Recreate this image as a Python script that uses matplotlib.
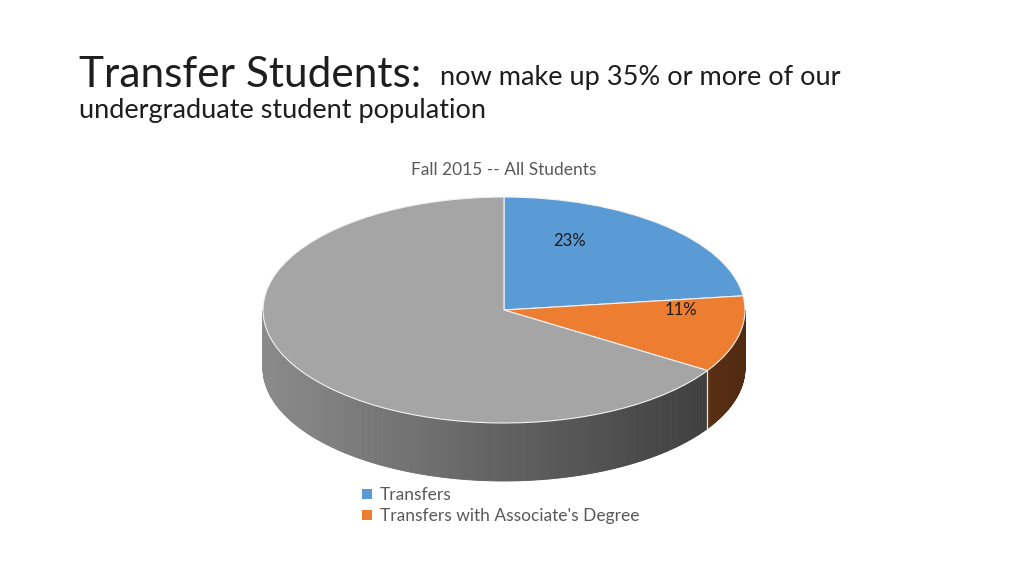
import numpy as np
import matplotlib
matplotlib.use("Agg")
import matplotlib.pyplot as plt
from matplotlib.patches import Polygon

# ---- data ----
categories = ["Transfers", "Transfers with Associate's Degree", "Other"]
values = [23, 11, 66]
labels_shown = ["23%", "11%", ""]
legend_labels = ["Transfers", "Transfers with Associate's Degree"]
colors = ["#5B9BD5", "#ED7D31", "#A5A5A5"]

W, H = 1024, 576
fig = plt.figure(figsize=(W / 100, H / 100), dpi=100)
fig.patch.set_facecolor("white")

FONT = ["Lato", "DejaVu Sans"]

# pie geometry (pixel units)
cx, cy = 504, 310
rx, ry = 241, 113
depth = 58 / ry

ax = fig.add_axes([0, 0, 1, 1])
wedges, _ = ax.pie(values, colors=colors, startangle=90, counterclock=False,
                   radius=1.0, center=(0, 0),
                   wedgeprops=dict(edgecolor="#f2f2f2", linewidth=0.8, zorder=5))
ax.set_aspect("auto")
ax.set_xlim(-cx / rx, (W - cx) / rx)
ax.set_ylim(-(H - cy) / ry, cy / ry)
ax.axis("off")

# side walls derived from the same fractions
fr = np.array(values, dtype=float) / np.sum(values)
cum = np.concatenate([[0], np.cumsum(fr)])
for i, col in enumerate(colors):
    t2 = 90 - 360 * cum[i]
    t1 = 90 - 360 * cum[i + 1]
    base = np.array(matplotlib.colors.to_rgb(col))
    for k in (-1, 0, 1):
        a = max(t1, -180 + 360 * k)
        b = min(t2, 0 + 360 * k)
        if b <= a:
            continue
        steps = np.linspace(a, b, max(2, int((b - a) / 0.5) + 1))
        for s0, s1 in zip(steps[:-1], steps[1:]):
            ra0, ra1 = np.radians(s0), np.radians(s1)
            xm = np.cos((ra0 + ra1) / 2)
            f = 0.84 - 0.25 * (xm + 1)
            c = np.clip(base * f, 0, 1)
            pts = [(np.cos(ra0), np.sin(ra0)), (np.cos(ra1), np.sin(ra1)),
                   (np.cos(ra1), np.sin(ra1) - depth), (np.cos(ra0), np.sin(ra0) - depth)]
            ax.add_patch(Polygon(pts, closed=True, facecolor=c, edgecolor=c,
                                 linewidth=0.6, zorder=2))
        # light seam at wedge boundaries on the side
        for ang in (a, b):
            if -179.9 < ang - 360 * k < -0.1:
                r = np.radians(ang)
                ax.plot([np.cos(r), np.cos(r)], [np.sin(r), np.sin(r) - depth],
                        color="#e8e8e8", lw=0.8, zorder=3)

# percentage labels
label_pos = [(570, 241), (681, 310)]
for (px, py), txt in zip(label_pos, labels_shown[:2]):
    fig.text(px / W, 1 - py / H, txt, ha="center", va="center",
             fontsize=12, color="#1a1a1a", family=FONT)

# titles
fig.text(79 / W, 1 - 87 / H, "Transfer Students:", fontsize=30.5, family=FONT,
         color="#1e1e1e", va="baseline", ha="left")
fig.text(440 / W, 1 - 85 / H, "now make up 35% or more of our", fontsize=19.5,
         family=FONT, color="#1e1e1e", va="baseline", ha="left")
fig.text(79 / W, 1 - 118 / H, "undergraduate student population", fontsize=19.5,
         family=FONT, color="#1e1e1e", va="baseline", ha="left")
fig.text(504 / W, 1 - 170 / H, "Fall 2015 -- All Students", fontsize=12.5,
         family=FONT, color="#595959", va="center", ha="center")

# legend
leg = fig.legend(wedges[:2], legend_labels, loc="upper left",
                 bbox_to_anchor=(362 / W, 1 - 487 / H), frameon=False,
                 handlelength=0.55, handleheight=0.55, handletextpad=0.5,
                 labelspacing=0.3, borderpad=0, borderaxespad=0,
                 prop=dict(family=FONT, size=12.5))
for t in leg.get_texts():
    t.set_color("#595959")
for h in leg.legend_handles:
    h.set_edgecolor("none")

fig.savefig("out.png", dpi=100, facecolor="white")
